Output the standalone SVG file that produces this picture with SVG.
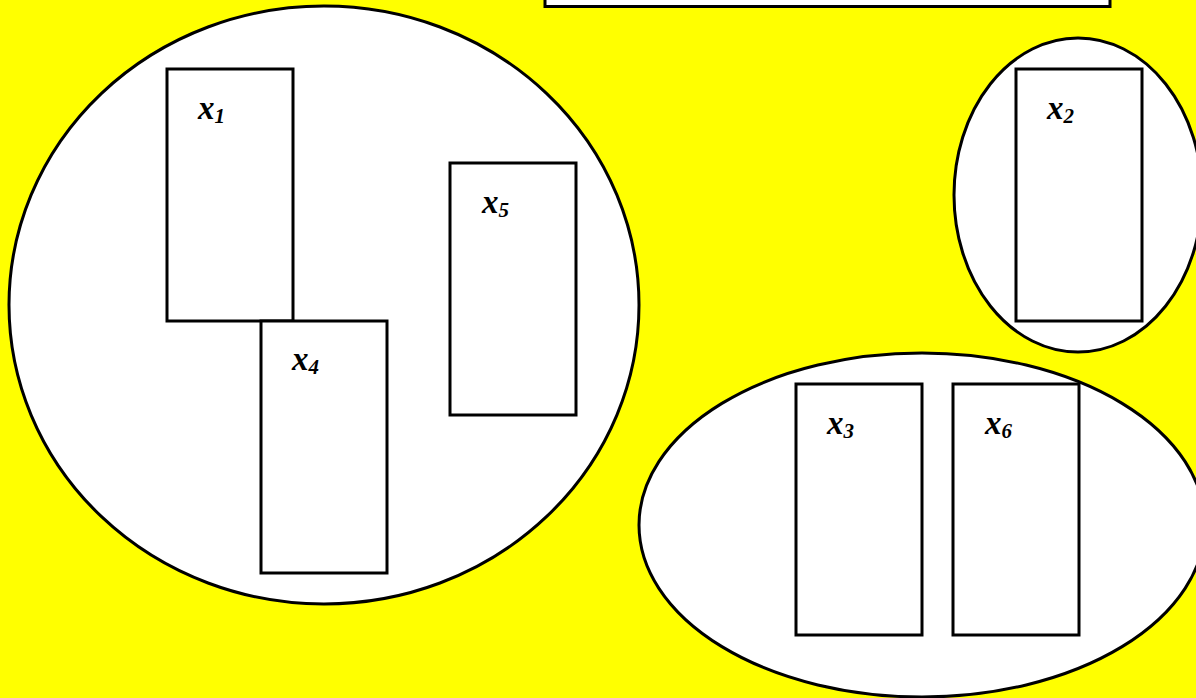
<svg xmlns="http://www.w3.org/2000/svg" width="1196" height="698" viewBox="0 0 1196 698">
<style>
.sh{fill:#fff;stroke:#000;stroke-width:3}
.lb{font-family:"Liberation Serif",serif;font-style:italic;font-weight:bold;font-size:33px;fill:#000}
.sb{font-size:21px}
</style>
<rect width="1196" height="698" fill="#ffff00"/>
<g id="topbox"><rect class="sh" x="545" y="-10" width="565" height="16.5"/></g>
<g id="cluster1"><ellipse class="sh" cx="324" cy="305" rx="315" ry="299"/></g>
<g id="cluster2"><ellipse class="sh" cx="1078" cy="195" rx="124" ry="157"/></g>
<g id="cluster3"><ellipse class="sh" cx="922" cy="525" rx="283" ry="172"/></g>
<g id="x1"><rect class="sh" x="167" y="69" width="126" height="252"/><text class="lb" x="198" y="119">x<tspan class="sb" dy="4">1</tspan></text></g>
<g id="x5"><rect class="sh" x="450" y="163" width="126" height="252"/><text class="lb" x="482" y="213">x<tspan class="sb" dy="4">5</tspan></text></g>
<g id="x4"><rect class="sh" x="261" y="321" width="126" height="252"/><text class="lb" x="292" y="370">x<tspan class="sb" dy="4">4</tspan></text></g>
<g id="x2"><rect class="sh" x="1016" y="69" width="126" height="252"/><text class="lb" x="1047" y="119">x<tspan class="sb" dy="4">2</tspan></text></g>
<g id="x3"><rect class="sh" x="796" y="384" width="126" height="251"/><text class="lb" x="827" y="434">x<tspan class="sb" dy="4">3</tspan></text></g>
<g id="x6"><rect class="sh" x="953" y="384" width="126" height="251"/><text class="lb" x="985" y="434">x<tspan class="sb" dy="4">6</tspan></text></g>
<g id="connectors"></g>
</svg>
